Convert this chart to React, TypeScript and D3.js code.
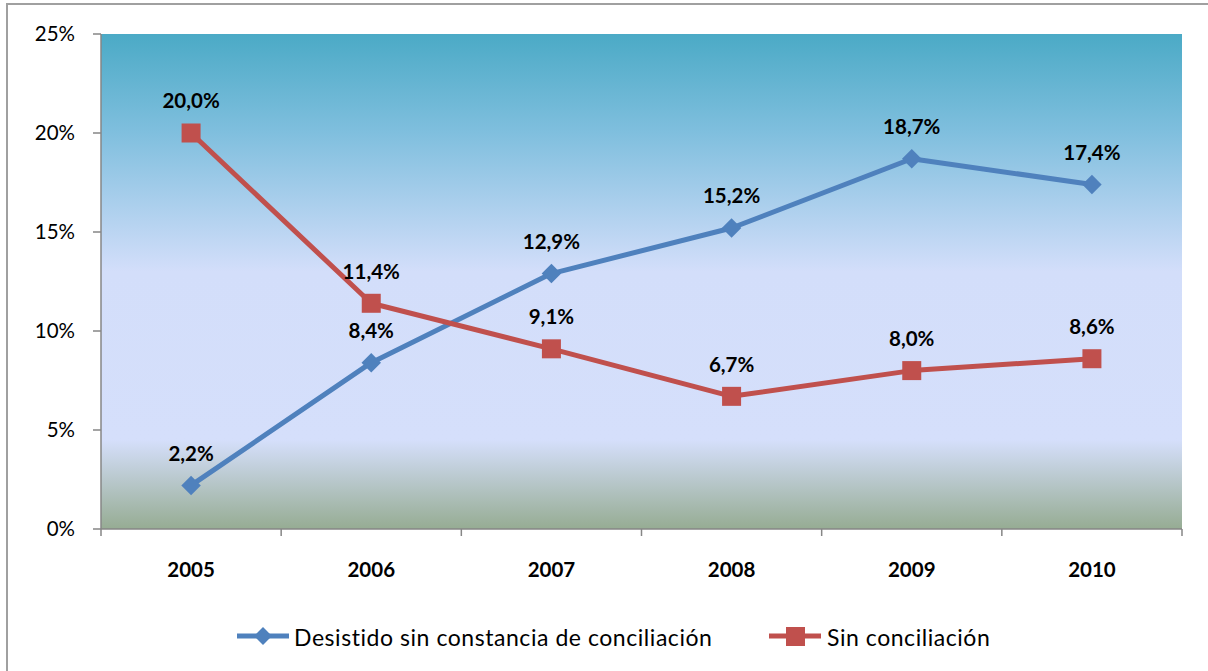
import React from "react";
import * as d3 from "d3";

const years = ["2005", "2006", "2007", "2008", "2009", "2010"];
const desistido = [2.2, 8.4, 12.9, 15.2, 18.7, 17.4];
const sinConciliacion = [20.0, 11.4, 9.1, 6.7, 8.0, 8.6];
const yTicks = [0, 5, 10, 15, 20, 25];
const seriesNames = ["Desistido sin constancia de conciliación", "Sin conciliación"];

const W = 1208, H = 671;
const M = { left: 101, right: 1182, top: 34, bottom: 529 };
const FONT = "Lato, 'Open Sans', sans-serif";
const BLUE = "#4F81BD";
const RED = "#C0504D";
const AXIS = "#868686";

const fmt = (v: number) => v.toFixed(1).replace(".", ",") + "%";

export default function App() {
  const x = d3.scaleBand<string>().domain(years).range([M.left, M.right]);
  const y = d3.scaleLinear().domain([0, 25]).range([M.bottom, M.top]);
  const cx = (d: string) => (x(d) as number) + x.bandwidth() / 2;
  const line = d3.line<number>().x((_, i) => cx(years[i])).y((v) => y(v));
  const diamond = d3.symbol().type(d3.symbolSquare).size(190);

  const boundaries = [...years.map((d) => x(d) as number), M.right];

  return (
    <svg width={W} height={H} style={{ position: "absolute", left: 0, top: 0, display: "block" }} fontFamily={FONT}>
      <defs>
        <linearGradient id="bg" x1="0" y1="0" x2="0" y2="1">
          <stop offset="0" stopColor="#4BAAC6" />
          <stop offset="0.2" stopColor="#80BFDE" />
          <stop offset="0.48" stopColor="#D3DEFA" />
          <stop offset="0.82" stopColor="#D5DFFB" />
          <stop offset="1" stopColor="#96AC93" />
        </linearGradient>
      </defs>
      <rect x={0} y={0} width={W} height={H} fill="#fff" />
      <rect x={7} y={4} width={W + 10} height={H + 10} fill="none" stroke="#A0A0A0" strokeWidth={2} />
      <rect x={M.left} y={M.top} width={M.right - M.left} height={M.bottom - M.top} fill="url(#bg)" />

      {/* Y axis */}
      <line x1={M.left} x2={M.left} y1={M.top} y2={M.bottom} stroke={AXIS} strokeWidth={1.5} />
      {yTicks.map((t) => (
        <g key={t}>
          <line x1={M.left - 8} x2={M.left} y1={y(t)} y2={y(t)} stroke={AXIS} strokeWidth={1.5} />
          <text x={75} y={y(t)} dy="0.36em" textAnchor="end" fontSize={20.5} fill="#000">
            {t}%
          </text>
        </g>
      ))}

      {/* X axis */}
      <line x1={M.left} x2={M.right} y1={M.bottom} y2={M.bottom} stroke={AXIS} strokeWidth={1.5} />
      {boundaries.map((b, i) => (
        <line key={i} x1={b} x2={b} y1={M.bottom} y2={M.bottom + 7} stroke={AXIS} strokeWidth={1.5} />
      ))}
      {years.map((d) => (
        <text key={d} x={cx(d)} y={570} dy="0.36em" textAnchor="middle" fontSize={20.5} fontWeight="bold" fill="#000">
          {d}
        </text>
      ))}

      {/* Lines */}
      <path d={line(desistido) || ""} fill="none" stroke={BLUE} strokeWidth={5} strokeLinejoin="round" />
      <path d={line(sinConciliacion) || ""} fill="none" stroke={RED} strokeWidth={5} strokeLinejoin="round" />

      {desistido.map((v, i) => (
        <path key={"d" + i} d={diamond() || ""} transform={`translate(${cx(years[i])},${y(v)}) rotate(45)`} fill={BLUE} />
      ))}
      {sinConciliacion.map((v, i) => (
        <rect key={"s" + i} x={cx(years[i]) - 9.5} y={y(v) - 9.5} width={19} height={19} fill={RED} />
      ))}

      {/* Data labels */}
      {desistido.map((v, i) => (
        <text key={"dl" + i} x={cx(years[i])} y={y(v) - 32} dy="0.36em" textAnchor="middle" fontSize={20.5} fontWeight="bold" fill="#000">
          {fmt(v)}
        </text>
      ))}
      {sinConciliacion.map((v, i) => (
        <text key={"sl" + i} x={cx(years[i])} y={y(v) - 32} dy="0.36em" textAnchor="middle" fontSize={20.5} fontWeight="bold" fill="#000">
          {fmt(v)}
        </text>
      ))}

      {/* Legend */}
      <g>
        <line x1={237} x2={289} y1={636} y2={636} stroke={BLUE} strokeWidth={5} />
        <path d={d3.symbol().type(d3.symbolSquare).size(160)() || ""} transform="translate(263,636) rotate(45)" fill={BLUE} />
        <text x={294} y={638} dy="0.36em" fontSize={23} letterSpacing={0.55} fill="#000">{seriesNames[0]}</text>
        <line x1={769} x2={821} y1={636} y2={636} stroke={RED} strokeWidth={5} />
        <rect x={786} y={627} width={19} height={19} fill={RED} />
        <text x={827} y={638} dy="0.36em" fontSize={23} letterSpacing={0.55} fill="#000">{seriesNames[1]}</text>
      </g>
    </svg>
  );
}
